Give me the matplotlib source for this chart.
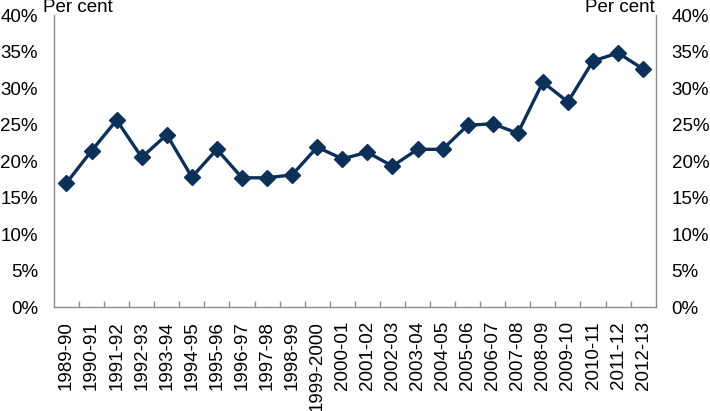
import matplotlib
matplotlib.use("Agg")
import matplotlib.pyplot as plt
import numpy as np

plt.rcParams['font.family'] = ['Liberation Sans', 'DejaVu Sans']

years = ["1989-90", "1990-91", "1991-92", "1992-93", "1993-94", "1994-95", "1995-96",
         "1996-97", "1997-98", "1998-99", "1999-2000", "2000-01", "2001-02", "2002-03",
         "2003-04", "2004-05", "2005-06", "2006-07", "2007-08", "2008-09", "2009-10",
         "2010-11", "2011-12", "2012-13"]
values = [17.0, 21.4, 25.6, 20.5, 23.6, 17.8, 21.6, 17.7, 17.7, 18.1, 21.9, 20.3,
          21.2, 19.3, 21.6, 21.6, 24.9, 25.1, 23.8, 30.8, 28.1, 33.7, 34.8, 32.6]
yticks = [0, 5, 10, 15, 20, 25, 30, 35, 40]

color = "#0b3158"
spine_col = "#8c8c8c"
fs = 13.5

fig = plt.figure(figsize=(7.10, 4.11), dpi=100)
ax = fig.add_axes([0.076, 0.253, 0.8475, 0.7105])
x = np.arange(len(years))
ax.plot(x, values, color=color, lw=2.4, marker='D', ms=8, mec=color, mfc=color)

ax.set_xlim(-0.5, len(years) - 0.5)
ax.set_ylim(0, 40)
ax.set_yticks(yticks)
ax.set_yticklabels([f"{v}%" for v in yticks])
ax.tick_params(axis='y', length=0, pad=11.5, labelsize=fs, left=True, right=True,
               labelleft=True, labelright=True)

ax.set_xticks(x)
ax.set_xticklabels(years, rotation=90, fontsize=fs)
ax.tick_params(axis='x', which='major', length=0, pad=10)
ax.set_xticks(np.arange(0.5, len(years) - 1, 1.0), minor=True)
ax.tick_params(axis='x', which='minor', direction='in', length=4, color=spine_col, width=1)

ax.spines['top'].set_visible(False)
for s in ['left', 'right', 'bottom']:
    ax.spines[s].set_color(spine_col)
    ax.spines[s].set_linewidth(1)

fig.text(0.061, 1.002, "Per cent", ha='left', va='top', fontsize=fs)
fig.text(0.9215, 1.002, "Per cent", ha='right', va='top', fontsize=fs)

fig.savefig("out.png", dpi=100)
